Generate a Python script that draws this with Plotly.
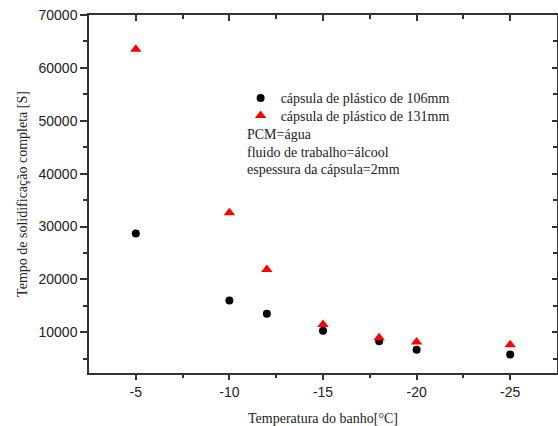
import plotly.graph_objects as go

# Bath temperature [°C] and complete solidification time [s]
temp_106 = [-5, -10, -12, -15, -18, -20, -25]
time_106 = [28700, 16000, 13500, 10300, 8300, 6700, 5800]

temp_131 = [-5, -10, -12, -15, -18, -20, -25]
time_131 = [63500, 32600, 21850, 11450, 8950, 8150, 7650]

notes = ["PCM=água", "fluido de trabalho=álcool", "espessura da cápsula=2mm"]

x_range = [-2.5, -27.5]
y_range = [2300, 70000]

serif = "Liberation Serif, Times New Roman, serif"
sans = "Liberation Sans, Arial, sans-serif"
axis_col = "#333333"
text_col = "#222222"

fig = go.Figure()
fig.add_trace(go.Scatter(
    x=temp_106, y=time_106, mode="markers",
    name="cápsula de plástico de 106mm", legend="legend",
    marker=dict(symbol="circle", size=8, color="black"),
))
fig.add_trace(go.Scatter(
    x=temp_131, y=time_131, mode="markers",
    name="cápsula de plástico de 131mm", legend="legend2",
    marker=dict(symbol="triangle-up", size=10, color="#ff0000"),
))
# invisible trace that anchors the mirrored top/right axes
fig.add_trace(go.Scatter(
    x=temp_106, y=time_106, mode="markers", xaxis="x2", yaxis="y2",
    marker=dict(opacity=0), showlegend=False, hoverinfo="skip",
))

common = dict(showline=True, linecolor=axis_col, linewidth=1.5,
              showgrid=False, zeroline=False)
legend_style = dict(
    xanchor="left", yanchor="middle", bgcolor="rgba(0,0,0,0)",
    font=dict(family=serif, size=14, color=text_col), itemsizing="trace",
)

fig.update_layout(
    width=558, height=426,
    margin=dict(l=89, r=1, t=15, b=53),
    plot_bgcolor="white", paper_bgcolor="white",
    showlegend=True,
    legend=dict(x=0.324, y=0.767, **legend_style),
    legend2=dict(x=0.324, y=0.718, **legend_style),
    xaxis=dict(
        range=x_range, tickmode="array", tickvals=[-5, -10, -15, -20, -25],
        ticktext=["-5", "-10", "-15", "-20", "-25"],
        ticks="outside", ticklen=5, tickwidth=1.5, tickcolor=axis_col,
        minor=dict(tickvals=[-7.5, -12.5, -17.5, -22.5], ticks="outside",
                   ticklen=3, tickwidth=1.5, tickcolor=axis_col),
        tickfont=dict(family=sans, size=14, color=text_col),
        title=dict(text="Temperatura do banho[°C]", standoff=16,
                   font=dict(family=serif, size=14, color=text_col)),
        **common,
    ),
    yaxis=dict(
        range=y_range, tick0=0, dtick=10000, tickformat="d",
        ticks="outside", ticklen=7, tickwidth=1.5, tickcolor=axis_col,
        minor=dict(dtick=5000, tick0=0, ticks="outside",
                   ticklen=4, tickwidth=1.5, tickcolor=axis_col),
        tickfont=dict(family=sans, size=14, color=text_col),
        title=dict(text="Tempo de solidificação completa [S]", standoff=8,
                   font=dict(family=serif, size=14, color=text_col)),
        **common,
    ),
    xaxis2=dict(
        range=x_range, overlaying="x", side="top", anchor="y2",
        tickmode="array", tickvals=[-5, -10, -15, -20, -25], showticklabels=False,
        ticks="inside", ticklen=6, tickwidth=1.5, tickcolor=axis_col,
        minor=dict(tickvals=[-7.5, -12.5, -17.5, -22.5], ticks="inside",
                   ticklen=4, tickwidth=1.5, tickcolor=axis_col),
        **common,
    ),
    yaxis2=dict(
        range=y_range, overlaying="y", side="right", anchor="x2",
        tick0=0, dtick=10000, showticklabels=False,
        ticks="inside", ticklen=5, tickwidth=1.5, tickcolor=axis_col,
        minor=dict(dtick=5000, tick0=0, ticks="inside",
                   ticklen=4, tickwidth=1.5, tickcolor=axis_col),
        **common,
    ),
)

# Experiment conditions written under the legend
note_y = [0.667, 0.617, 0.569]
for text, yy in zip(notes, note_y):
    fig.add_annotation(
        text=text, x=0.333, y=yy, xref="paper", yref="paper",
        xanchor="left", yanchor="middle", showarrow=False,
        font=dict(family=serif, size=14, color=text_col),
    )

fig.write_html("out.html")
